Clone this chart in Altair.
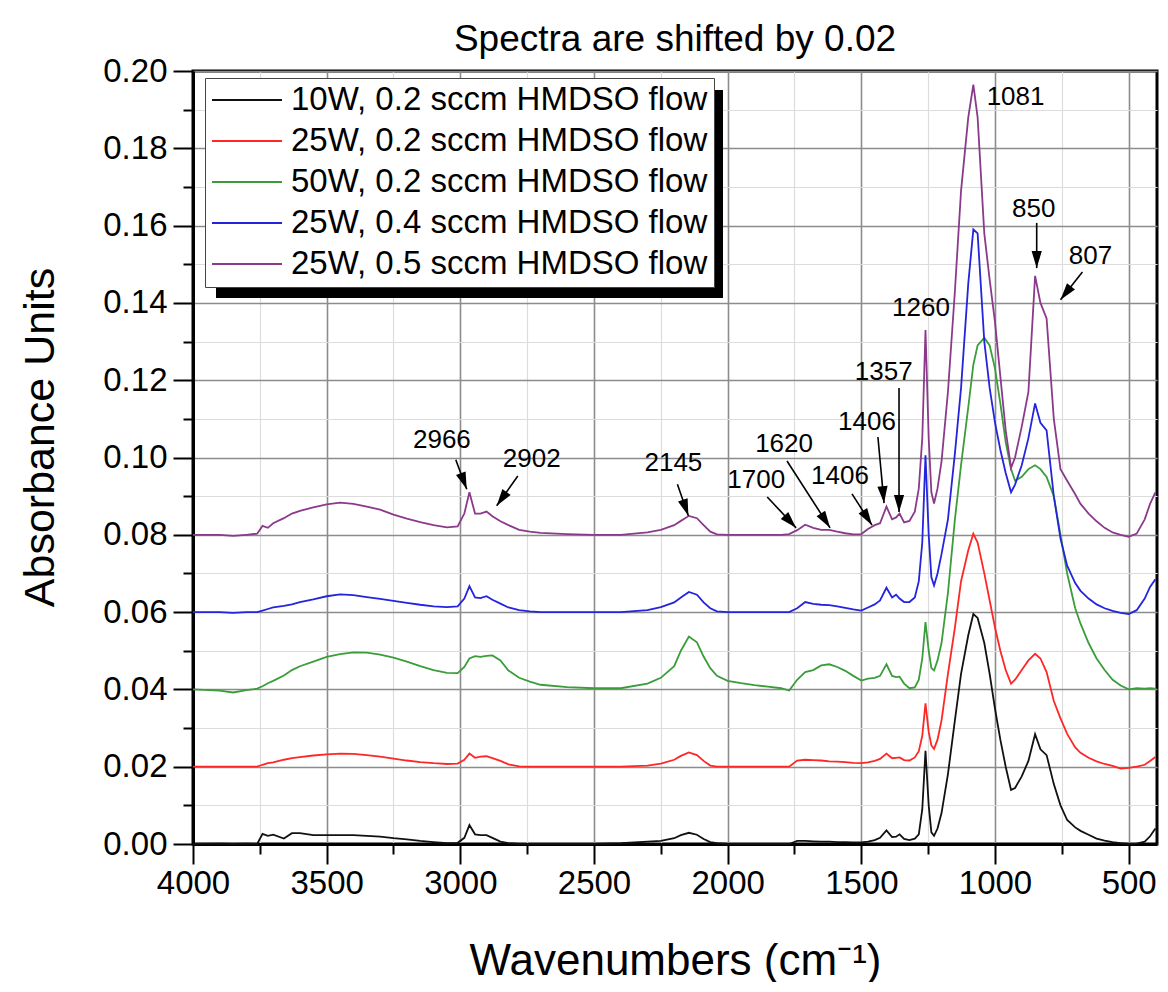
import math
import altair as alt
import pandas as pd

# ---------------- data ----------------
wavenumbers = [
    4000, 3900, 3850, 3800, 3760, 3740, 3720, 3700, 3660, 3630,
    3600, 3550, 3500, 3450, 3400, 3350, 3300, 3250, 3200, 3150,
    3100, 3050, 3010, 2985, 2966, 2945, 2925, 2902, 2880, 2850,
    2820, 2780, 2740, 2700, 2600, 2500, 2400, 2300, 2250, 2200,
    2175, 2145, 2115, 2090, 2065, 2040, 2000, 1950, 1900, 1850,
    1800, 1770, 1740, 1710, 1680, 1650, 1620, 1590, 1560, 1530,
    1500, 1475, 1450, 1430, 1406, 1385, 1370, 1357, 1340, 1320,
    1300, 1285, 1272, 1260, 1248, 1238, 1228, 1215, 1200, 1176,
    1150, 1127, 1100, 1081, 1065, 1040, 1020, 1000, 980, 960,
    940, 925, 900, 875, 850, 830, 807, 780, 755, 730,
    700, 680, 650, 620, 590, 560, 530, 500, 470, 440,
    420, 400,
]

# unshifted absorbance, in milli-absorbance units
black_10w_02 = [
    0.0, 0.1, 0.0, 0.1, 0.0, 2.6, 2.1, 2.4, 1.4, 2.8,
    2.8, 2.3, 2.3, 2.3, 2.3, 2.1, 1.9, 1.5, 1.2, 0.8,
    0.5, 0.2, 0.3, 1.6, 4.9, 2.5, 2.3, 2.3, 1.6, 0.6,
    0.2, 0.0, 0.0, 0.0, 0.0, 0.0, 0.2, 0.6, 0.8, 1.5,
    2.3, 2.9, 2.4, 1.3, 0.5, 0.2, 0.0, 0.0, 0.0, 0.0,
    0.0, 0.0, 0.8, 0.8, 0.7, 0.6, 0.6, 0.5, 0.5, 0.4,
    0.4, 0.6, 1.0, 1.6, 3.5, 1.8, 1.9, 2.5, 1.3, 1.0,
    1.4, 2.5, 9.0, 24.1, 10.0, 3.0, 2.1, 4.0, 8.0, 18.1,
    32.0, 44.0, 54.0, 59.5, 58.5, 52.0, 44.0, 35.0, 27.0, 20.0,
    14.0, 14.5, 17.5, 21.5, 28.4, 24.5, 23.0, 15.5, 10.0, 6.2,
    4.3, 3.4, 2.4, 1.4, 0.9, 0.5, 0.2, 0.0, 0.1, 0.6,
    2.0, 4.0,
]
red_25w_02 = [
    0.0, 0.0, 0.0, 0.0, 0.0, 0.5, 0.9, 1.1, 1.8, 2.2,
    2.5, 2.9, 3.2, 3.4, 3.3, 3.0, 2.6, 2.1, 1.6, 1.2,
    0.9, 0.7, 0.8, 1.8, 3.4, 2.3, 2.6, 2.7, 2.2, 1.5,
    0.6, 0.1, 0.0, 0.0, 0.0, 0.0, 0.0, 0.3, 0.8, 1.8,
    2.8, 3.7, 3.0, 1.5, 0.3, 0.0, 0.0, 0.0, 0.0, 0.0,
    0.0, 0.0, 1.6, 1.8, 1.7, 1.6, 1.4, 1.3, 1.2, 1.0,
    0.9, 1.1, 1.5, 2.0, 3.4, 2.2, 2.3, 2.4, 1.7, 1.6,
    2.4, 4.0, 8.0, 16.4, 9.0, 5.5, 4.6, 7.0, 12.0, 24.0,
    36.0, 48.0, 56.0, 60.3, 58.0, 50.0, 43.0, 36.0, 30.0, 25.0,
    21.5, 22.5, 25.0, 27.5, 29.2, 28.0, 24.5, 17.0, 12.5, 8.5,
    5.0, 3.6, 2.3, 1.4, 0.7, 0.2, -0.5, -0.3, 0.0, 0.5,
    1.5, 2.5,
]
green_50w_02 = [
    0.0, -0.3, -0.8, -0.2, 0.2, 0.8, 1.6, 2.2, 3.6, 5.0,
    6.0, 7.2, 8.4, 9.1, 9.6, 9.5, 9.0, 8.2, 7.2, 6.0,
    5.0, 4.3, 4.2, 5.8, 8.0, 8.6, 8.4, 8.7, 8.8, 7.5,
    4.9, 3.0, 2.0, 1.2, 0.6, 0.3, 0.3, 1.5, 3.0, 6.0,
    10.0, 13.7, 12.2, 8.5, 5.5, 3.5, 2.2, 1.6, 1.1, 0.7,
    0.3, -0.3, 2.5, 4.5, 5.0, 6.2, 6.5, 5.8, 4.8, 3.5,
    2.3, 2.8, 3.0, 3.5, 6.5, 3.5, 3.2, 3.3, 1.5, 0.3,
    0.5, 2.5, 8.0, 17.4, 10.0, 5.5, 4.9, 7.5, 12.0, 25.0,
    44.0, 58.0, 73.0, 84.0, 89.0, 91.0, 89.0, 83.0, 74.0, 64.0,
    57.0, 54.0, 55.0, 57.0, 58.0, 57.0, 55.0, 50.0, 40.0, 30.0,
    21.0, 17.0, 12.0, 8.0, 5.0, 2.5, 1.0, 0.0, 0.3, 0.2,
    0.3, 0.2,
]
blue_25w_04 = [
    0.0, 0.0, -0.2, 0.0, 0.0, 0.4, 0.8, 1.2, 1.6, 2.0,
    2.6, 3.3, 4.1, 4.6, 4.4, 3.9, 3.4, 2.9, 2.4, 1.9,
    1.5, 1.3, 1.5, 3.5, 6.7, 3.8, 3.6, 4.1, 3.2, 2.2,
    1.2, 0.5, 0.2, 0.0, 0.0, 0.0, 0.0, 0.5, 1.3, 2.5,
    3.8, 5.2, 4.5, 2.5, 1.0, 0.2, 0.0, 0.0, 0.0, 0.0,
    0.0, 0.0, 1.0, 2.6, 2.1, 1.9, 1.8, 1.5, 1.1, 0.7,
    0.4, 1.2, 2.0, 3.0, 6.3, 3.8, 4.5, 3.5, 2.6, 2.6,
    3.8, 8.0, 18.0, 40.6, 20.0, 9.0, 6.9, 10.0, 15.0, 24.0,
    41.0, 58.0, 85.0, 99.0, 98.0, 70.0, 58.0, 49.0, 42.0, 36.0,
    31.0, 33.0, 38.0, 45.0, 54.0, 49.0, 47.0, 30.0, 19.0, 12.0,
    7.5, 5.5, 3.5, 2.0, 1.0, 0.3, -0.2, -0.5, 0.5, 3.5,
    6.5, 8.5,
]
purple_25w_05 = [
    0.0, 0.0, -0.3, 0.0, 0.3, 2.3, 1.8, 3.0, 4.3, 5.5,
    6.2, 7.1, 7.9, 8.3, 8.0, 7.3, 6.5, 5.2, 4.2, 3.3,
    2.5, 1.9, 2.2, 5.5, 11.0, 5.5, 5.5, 6.0, 4.8, 3.5,
    2.5, 1.3, 0.8, 0.5, 0.2, 0.0, 0.0, 0.6, 1.3, 2.5,
    3.6, 4.9, 4.3, 2.5, 0.8, 0.1, 0.0, 0.0, 0.0, 0.0,
    0.0, 0.2, 1.2, 2.6, 1.8, 1.3, 1.3, 0.8, 0.4, 0.1,
    0.2, 1.5, 2.5, 3.0, 7.3, 4.0, 4.5, 5.5, 3.2, 3.6,
    6.0, 12.0, 25.0, 53.0, 25.0, 11.0, 8.1, 12.0, 19.0, 37.0,
    63.0, 89.0, 108.0, 116.5, 108.0, 78.0, 66.0, 55.0, 41.0, 27.0,
    17.3, 20.0, 28.0, 37.0, 67.0, 60.0, 56.0, 30.0, 17.0, 14.0,
    10.5, 8.0, 5.5, 3.5, 1.8, 0.6, 0.0, -0.5, 0.3, 4.0,
    8.0, 11.0,
]

series_names = [
    "10W, 0.2 sccm HMDSO flow",
    "25W, 0.2 sccm HMDSO flow",
    "50W, 0.2 sccm HMDSO flow",
    "25W, 0.4 sccm HMDSO flow",
    "25W, 0.5 sccm HMDSO flow",
]
series_values = [black_10w_02, red_25w_02, green_50w_02, blue_25w_04, purple_25w_05]
series_colors = ["#111111", "#ff2626", "#3a9d3a", "#2424dd", "#8b3a8b"]
shift_step = 0.02

x_tick_values = [4000, 3750, 3500, 3250, 3000, 2750, 2500, 2250, 2000,
                 1750, 1500, 1250, 1000, 750, 500]
y_tick_values = [0.00, 0.01, 0.02, 0.03, 0.04, 0.05, 0.06, 0.07, 0.08, 0.09, 0.10,
                 0.11, 0.12, 0.13, 0.14, 0.15, 0.16, 0.17, 0.18, 0.19, 0.20]

# peak labels (wavenumber, absorbance position of the label)
label_texts = ["2966", "2902", "2145", "1700", "1620", "1406", "1406", "1357", "1260", "1081", "850", "807"]
label_wn = [3069, 2733, 2203, 1893, 1789, 1580, 1479, 1416, 1277, 923, 855, 643]
label_val = [0.1045, 0.0996, 0.0986, 0.0942, 0.1035, 0.0952, 0.1092, 0.1221, 0.1387, 0.1933, 0.1643, 0.1521]

# arrows: start -> end (tip), in data coordinates
arrow_wn_start = [3017, 2785, 2188, 1852, 1778, 1535, 1438, 1359, 844, 673]
arrow_val_start = [0.0994, 0.0952, 0.0931, 0.0898, 0.0991, 0.0906, 0.1053, 0.1180, 0.1607, 0.1480]
arrow_wn_end = [2976, 2864, 2147, 1744, 1617, 1460, 1415, 1359, 844, 755]
arrow_val_end = [0.0918, 0.0875, 0.0849, 0.0818, 0.0818, 0.0825, 0.0882, 0.0859, 0.1490, 0.1408]

for v in series_values:
    assert len(v) == len(wavenumbers)

# ---------------- layout ----------------
W, H = 964, 773
X_MIN, X_MAX = 394, 4000
Y_MIN, Y_MAX = 0.0, 0.20
FONT = "Liberation Sans"

rows = []
for i, (name, vals) in enumerate(zip(series_names, series_values)):
    for wn, v in zip(wavenumbers, vals):
        rows.append({"wn": wn, "absorbance": v / 1000.0 + i * shift_step, "series": name})
df = pd.DataFrame(rows)

kx = W / (X_MAX - X_MIN)
ky = H / (Y_MAX - Y_MIN)
arrows = []
for ws, vs, we, ve in zip(arrow_wn_start, arrow_val_start, arrow_wn_end, arrow_val_end):
    dx = (ws - we) * kx
    dy = (vs - ve) * ky
    ang = math.degrees(math.atan2(-dx, dy)) % 360
    arrows.append({"wn": ws, "absorbance": vs, "wn2": we, "absorbance2": ve, "ang": ang})
arrow_df = pd.DataFrame(arrows)
label_df = pd.DataFrame({"wn": label_wn, "absorbance": label_val, "txt": label_texts})

x_scale = alt.Scale(domain=[X_MIN, X_MAX], reverse=True, nice=False, zero=False)
y_scale = alt.Scale(domain=[Y_MIN, Y_MAX], nice=False, zero=False)

major_x = "datum.value % 500 === 0"
major_y = "round(datum.value * 100) % 2 === 0"

x_axis = alt.Axis(
    values=x_tick_values,
    title="Wavenumbers (cm\u207b\u00b9)",
    labelExpr=f"{major_x} ? format(datum.value, 'd') : ''",
    labelOverlap=False, labelFlush=False, labelFont=FONT, labelFontSize=33,
    labelColor="black", labelPadding=3,
    tickSize={"condition": {"test": major_x, "value": 20}, "value": 10},
    tickColor="black", tickWidth=2,
    grid=True,
    gridColor={"condition": {"test": major_x, "value": "#8c8c8c"}, "value": "#dcdcdc"},
    gridWidth={"condition": {"test": major_x, "value": 1.6}, "value": 1.2},
    domainColor="black", domainWidth=3,
    titleFont=FONT, titleFontSize=44, titleFontWeight="normal", titleColor="black",
    titleX=482, titleY=117, titleAlign="center", titleBaseline="middle",
)
y_axis = alt.Axis(
    values=y_tick_values,
    title="Absorbance Units",
    labelExpr=f"{major_y} ? format(datum.value, '.2f') : ''",
    labelOverlap=False, labelFlush=False, labelFont=FONT, labelFontSize=33,
    labelColor="black", labelPadding=6,
    tickSize={"condition": {"test": major_y, "value": 20}, "value": 10},
    tickColor="black", tickWidth=2,
    grid=True,
    gridColor={"condition": {"test": major_y, "value": "#8c8c8c"}, "value": "#dcdcdc"},
    gridWidth={"condition": {"test": major_y, "value": 1.6}, "value": 1.2},
    domainColor="black", domainWidth=3,
    titleFont=FONT, titleFontSize=43, titleFontWeight="normal", titleColor="black",
    titleX=-153, titleY=366, titleAngle=270, titleAlign="center", titleBaseline="middle",
)

legend = alt.Legend(
    title=None, orient="none", legendX=12, legendY=7,
    fillColor="white", strokeColor="#444444", padding=6,
    symbolType="stroke", symbolSize=4900, symbolStrokeWidth=2,
    labelFont=FONT, labelFontSize=33, labelColor="black", labelLimit=800, labelOffset=8,
    rowPadding=8, clipHeight=32,
)

X_ENC = dict(scale=x_scale, axis=x_axis, title="Wavenumbers (cm\u207b\u00b9)")
Y_ENC = dict(scale=y_scale, axis=y_axis, title="Absorbance Units")

lines = alt.Chart(df).mark_line(strokeWidth=1.8).encode(
    x=alt.X("wn:Q", **X_ENC),
    y=alt.Y("absorbance:Q", **Y_ENC),
    color=alt.Color("series:N", scale=alt.Scale(domain=series_names, range=series_colors),
                    sort=series_names, legend=legend),
    order=alt.Order("wn:Q"),
)

shadow = alt.Chart(pd.DataFrame({"k": [0]})).mark_rect(color="black").encode(
    x=alt.value(23), x2=alt.value(530), y=alt.value(19), y2=alt.value(227),
)

arrow_lines = alt.Chart(arrow_df).mark_rule(color="black", strokeWidth=1.6).encode(
    x=alt.X("wn:Q", **X_ENC),
    x2="wn2:Q",
    y=alt.Y("absorbance:Q", **Y_ENC),
    y2="absorbance2:Q",
)
arrow_heads = alt.Chart(arrow_df).mark_point(
    shape="M0,0L-0.3,-1L0.3,-1Z", filled=True, size=1156, color="black", opacity=1,
).encode(
    x=alt.X("wn2:Q", **X_ENC),
    y=alt.Y("absorbance2:Q", **Y_ENC),
    angle=alt.Angle("ang:Q", scale=None),
)
labels = alt.Chart(label_df).mark_text(
    font=FONT, fontSize=26, color="black", align="center", baseline="middle",
).encode(
    x=alt.X("wn:Q", **X_ENC),
    y=alt.Y("absorbance:Q", **Y_ENC),
    text="txt:N",
)

chart = alt.layer(lines, shadow, arrow_lines, arrow_heads, labels).properties(
    width=W, height=H,
    autosize=alt.AutoSizeParams(type="none"),
    padding={"left": 185, "top": 63, "right": 3, "bottom": 138},
    title=alt.TitleParams("Spectra are shifted by 0.02", font=FONT, fontSize=37,
                          fontWeight="normal", color="black", anchor="middle", offset=-4),
).configure_view(stroke="black", strokeWidth=3)

chart.save("out.html", embed_options={"renderer": "svg", "actions": False})
